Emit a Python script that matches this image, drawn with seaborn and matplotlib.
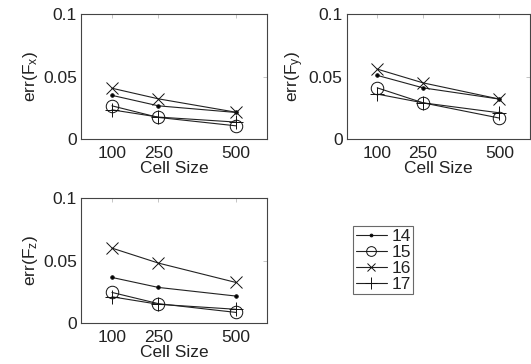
import pandas as pd
import seaborn as sns
import matplotlib.pyplot as plt
from matplotlib.lines import Line2D

cell_size = [100, 250, 500]
series = ['14', '15', '16', '17']

fx_14 = [0.035, 0.0266, 0.0213]
fx_15 = [0.0266, 0.0173, 0.0106]
fx_16 = [0.0407, 0.0322, 0.0215]
fx_17 = [0.0234, 0.0176, 0.0136]

fy_14 = [0.051, 0.041, 0.032]
fy_15 = [0.041, 0.029, 0.0168]
fy_16 = [0.056, 0.045, 0.032]
fy_17 = [0.036, 0.029, 0.021]

fz_14 = [0.0365, 0.0285, 0.0216]
fz_15 = [0.0245, 0.0155, 0.0085]
fz_16 = [0.060, 0.048, 0.0325]
fz_17 = [0.021, 0.015, 0.011]

panels = [
    ('err(F$_x$)', [fx_14, fx_15, fx_16, fx_17]),
    ('err(F$_y$)', [fy_14, fy_15, fy_16, fy_17]),
    ('err(F$_z$)', [fz_14, fz_15, fz_16, fz_17]),
]

sns.set_style("white")
plt.rcParams['font.family'] = ['Liberation Sans', 'DejaVu Sans']
plt.rcParams['mathtext.fontset'] = 'custom'
plt.rcParams['mathtext.rm'] = 'Liberation Sans'
plt.rcParams['mathtext.it'] = 'Liberation Sans'

fs = 12.5
styles = {
    '14': dict(marker='.', markersize=5, markerfacecolor='k'),
    '15': dict(marker='o', markersize=9, markerfacecolor='none'),
    '16': dict(marker='x', markersize=8, markerfacecolor='none'),
    '17': dict(marker='+', markersize=10, markerfacecolor='none'),
}
leg_sizes = {'14': 4, '15': 7, '16': 6, '17': 9}

fig = plt.figure(figsize=(5.31, 3.64), dpi=100)
positions = [
    [0.1525, 0.618, 0.350, 0.343],
    [0.653, 0.618, 0.345, 0.343],
    [0.1525, 0.1126, 0.350, 0.343],
]

for (label, vals), pos in zip(panels, positions):
    ax = fig.add_axes(pos)
    for name, v in zip(series, vals):
        df = pd.DataFrame({'cell': cell_size, 'err': v})
        sns.lineplot(data=df, x='cell', y='err', ax=ax, color='#222222',
                     linewidth=0.8, markeredgecolor='#111111', markeredgewidth=0.7,
                     **styles[name])
    ax.set_xlim(0, 600)
    ax.set_ylim(0, 0.1)
    ax.set_xticks(cell_size)
    ax.set_yticks([0, 0.05, 0.1])
    ax.set_yticklabels(['0', '0.05', '0.1'])
    ax.tick_params(direction='in', length=3, labelsize=fs, top=True, right=True,
                   width=0.6, color='#bbbbbb', pad=3, labelcolor='#222222')
    ax.tick_params(axis='x', pad=5)
    for s in ax.spines.values():
        s.set_color('#444444')
        s.set_linewidth(0.8)
    ax.set_xlabel('Cell Size', fontsize=fs, labelpad=0, color='#222222')
    ax.set_ylabel(label, fontsize=fs, labelpad=2, color='#222222')

handles = []
for n in series:
    st = dict(styles[n])
    st['markersize'] = leg_sizes[n]
    handles.append(Line2D([], [], color='#222222', linewidth=0.8,
                          markeredgecolor='#111111', markeredgewidth=0.7, **st))
leg = fig.legend(handles, series, loc='upper left',
                 bbox_to_anchor=(353 / 531, 1 - 226 / 364),
                 frameon=True, fancybox=False, fontsize=fs,
                 handlelength=1.8, handletextpad=0.25, borderpad=0.15,
                 labelspacing=0.05, borderaxespad=0, labelcolor='#222222')
leg.get_frame().set_edgecolor('#444444')
leg.get_frame().set_linewidth(0.8)

plt.savefig('out.png', dpi=100)
